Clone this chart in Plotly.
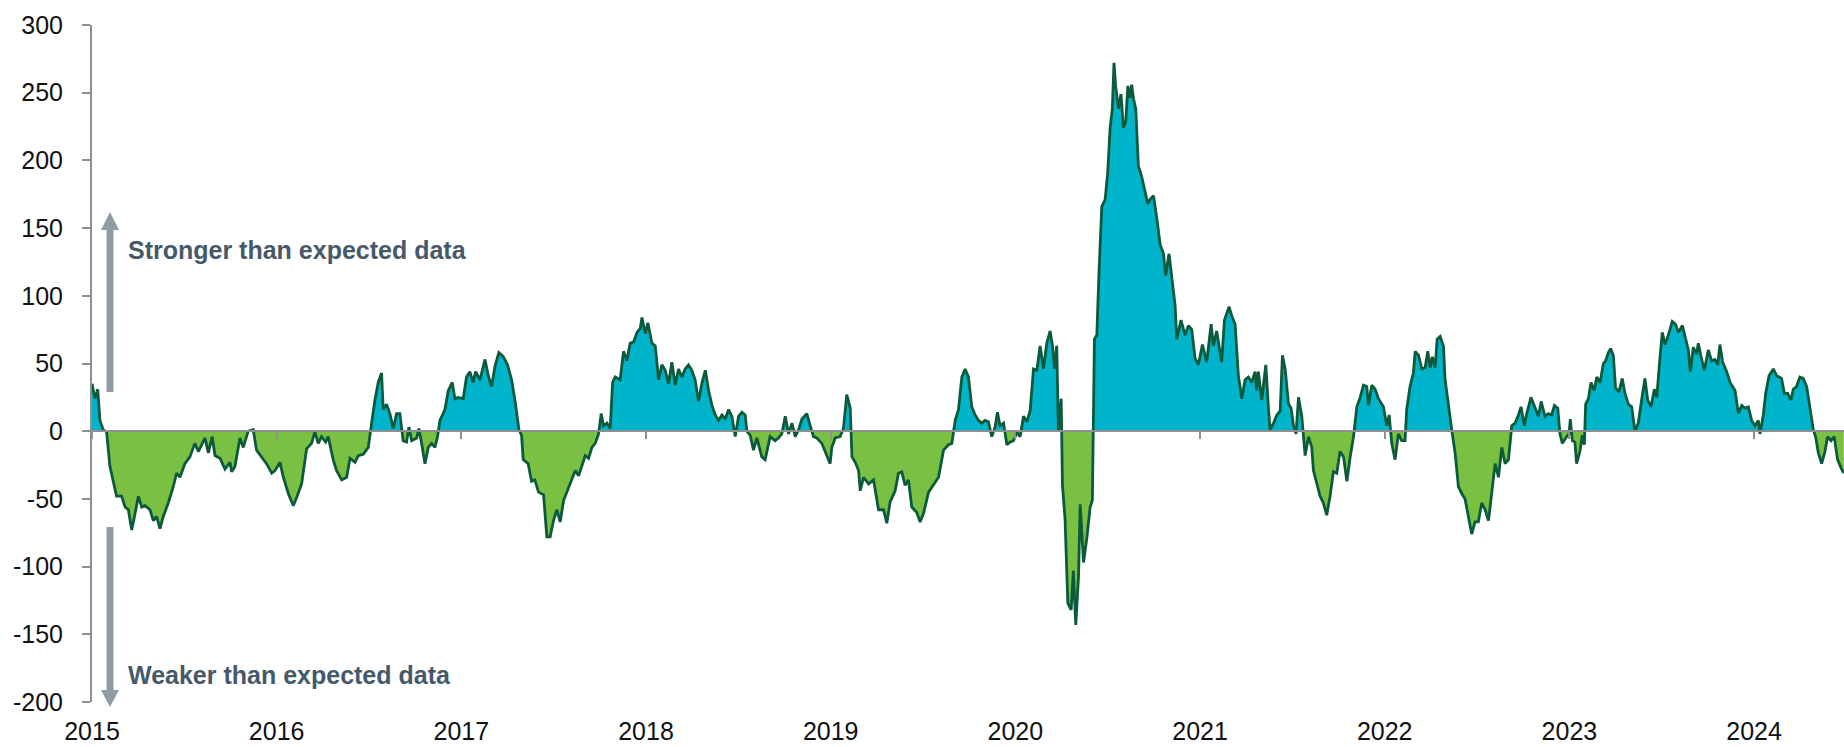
import plotly.graph_objects as go

# ---- data (decimal year, index value) ----
years = [
    2015.000, 2015.016, 2015.031, 2015.043, 2015.061, 2015.079, 2015.097, 2015.115, 2015.133, 2015.160,
    2015.179, 2015.197, 2015.215, 2015.233, 2015.251, 2015.269, 2015.287, 2015.314, 2015.332, 2015.350,
    2015.368, 2015.386, 2015.413, 2015.440, 2015.458, 2015.476, 2015.503, 2015.530, 2015.557, 2015.576,
    2015.612, 2015.630, 2015.651, 2015.666, 2015.693, 2015.720, 2015.747, 2015.756, 2015.774, 2015.801,
    2015.819, 2015.846, 2015.873, 2015.891, 2015.918, 2015.945, 2015.973, 2015.991, 2016.018, 2016.036,
    2016.063, 2016.090, 2016.108, 2016.135, 2016.162, 2016.189, 2016.207, 2016.225, 2016.243, 2016.265,
    2016.279, 2016.306, 2016.324, 2016.352, 2016.379, 2016.397, 2016.424, 2016.442, 2016.469, 2016.496,
    2016.514, 2016.532, 2016.550, 2016.568, 2016.577, 2016.595, 2016.613, 2016.631, 2016.649, 2016.667,
    2016.685, 2016.703, 2016.716, 2016.731, 2016.758, 2016.770, 2016.785, 2016.803, 2016.821, 2016.839,
    2016.857, 2016.871, 2016.884, 2016.911, 2016.929, 2016.951, 2016.965, 2016.983, 2017.010, 2017.028,
    2017.046, 2017.064, 2017.077, 2017.101, 2017.128, 2017.146, 2017.164, 2017.182, 2017.203, 2017.227,
    2017.250, 2017.272, 2017.290, 2017.312, 2017.326, 2017.335, 2017.362, 2017.380, 2017.398,
    2017.418, 2017.445, 2017.463, 2017.481, 2017.499, 2017.517, 2017.535, 2017.554, 2017.572, 2017.599,
    2017.617, 2017.635, 2017.653, 2017.671, 2017.689, 2017.707, 2017.725, 2017.743, 2017.757, 2017.770,
    2017.788, 2017.806, 2017.819, 2017.833, 2017.860, 2017.878, 2017.896, 2017.914, 2017.933, 2017.951,
    2017.969, 2017.978, 2017.996, 2018.010, 2018.032, 2018.050, 2018.068, 2018.086, 2018.104, 2018.122,
    2018.140, 2018.158, 2018.176, 2018.194, 2018.212, 2018.230, 2018.248, 2018.266, 2018.284, 2018.302,
    2018.321, 2018.339, 2018.357, 2018.375, 2018.393, 2018.411, 2018.429, 2018.447, 2018.465, 2018.483,
    2018.501, 2018.519, 2018.537, 2018.546, 2018.564, 2018.582, 2018.600, 2018.627, 2018.645, 2018.672,
    2018.699, 2018.717, 2018.735, 2018.754, 2018.772, 2018.790, 2018.808, 2018.826, 2018.844, 2018.871,
    2018.889, 2018.907, 2018.925, 2018.952, 2018.970, 2018.997, 2019.006, 2019.024, 2019.051, 2019.069,
    2019.087, 2019.106, 2019.115, 2019.133, 2019.151, 2019.160, 2019.178, 2019.205, 2019.232, 2019.259,
    2019.286, 2019.304, 2019.322, 2019.349, 2019.367, 2019.385, 2019.403, 2019.421, 2019.439, 2019.466,
    2019.484, 2019.502, 2019.530, 2019.557, 2019.584, 2019.611, 2019.638, 2019.656, 2019.674, 2019.692,
    2019.710, 2019.728, 2019.746, 2019.764, 2019.782,
    2019.800, 2019.818, 2019.836, 2019.854, 2019.872, 2019.890, 2019.903, 2019.917, 2019.936, 2019.954,
    2019.972, 2019.990, 2020.008, 2020.026, 2020.044, 2020.062, 2020.080, 2020.098, 2020.116, 2020.134,
    2020.152, 2020.170, 2020.188, 2020.201, 2020.212, 2020.224, 2020.233, 2020.248, 2020.255, 2020.269,
    2020.284, 2020.302, 2020.314, 2020.327, 2020.342, 2020.351, 2020.369, 2020.387, 2020.405, 2020.417,
    2020.428, 2020.441, 2020.453, 2020.468, 2020.486, 2020.500, 2020.513, 2020.525, 2020.534, 2020.543,
    2020.558, 2020.572, 2020.585, 2020.598, 2020.609, 2020.621, 2020.630, 2020.639, 2020.652, 2020.666,
    2020.684, 2020.702, 2020.717, 2020.729, 2020.748, 2020.766, 2020.784, 2020.802, 2020.814, 2020.832,
    2020.847, 2020.865, 2020.874, 2020.897, 2020.919, 2020.937, 2020.955, 2020.973, 2020.991, 2021.013,
    2021.036, 2021.060, 2021.072, 2021.090, 2021.117, 2021.132, 2021.157, 2021.172, 2021.190,
    2021.208, 2021.217, 2021.226, 2021.244, 2021.262, 2021.280, 2021.298, 2021.307, 2021.316, 2021.334,
    2021.356, 2021.370, 2021.379, 2021.398, 2021.416, 2021.434, 2021.446, 2021.461, 2021.479, 2021.493,
    2021.506, 2021.520, 2021.533, 2021.551, 2021.569, 2021.587, 2021.605, 2021.614, 2021.632, 2021.650,
    2021.668, 2021.686, 2021.704, 2021.722, 2021.740, 2021.758, 2021.777, 2021.795, 2021.813, 2021.831,
    2021.849, 2021.867, 2021.885, 2021.903, 2021.912, 2021.930, 2021.948, 2021.966, 2021.993, 2022.011,
    2022.024, 2022.038, 2022.056, 2022.074, 2022.092, 2022.110, 2022.119, 2022.137, 2022.155, 2022.165,
    2022.183, 2022.201, 2022.219, 2022.233, 2022.246, 2022.258, 2022.273, 2022.284, 2022.300, 2022.318,
    2022.327, 2022.345, 2022.363, 2022.381, 2022.399, 2022.417, 2022.435, 2022.453, 2022.471, 2022.489,
    2022.507, 2022.525, 2022.544, 2022.562, 2022.580, 2022.598, 2022.616, 2022.634, 2022.652, 2022.670,
    2022.688, 2022.706, 2022.724, 2022.738, 2022.756, 2022.769, 2022.792, 2022.814, 2022.832, 2022.847,
    2022.868, 2022.886, 2022.904, 2022.919,
    2022.937, 2022.949, 2022.962, 2022.980, 2022.998, 2023.005, 2023.016, 2023.030, 2023.039, 2023.057,
    2023.070, 2023.081, 2023.088, 2023.103, 2023.117, 2023.135, 2023.148, 2023.166, 2023.184, 2023.196,
    2023.211, 2023.223, 2023.238, 2023.250, 2023.268, 2023.286, 2023.301, 2023.319, 2023.337, 2023.355,
    2023.373, 2023.391, 2023.409, 2023.424, 2023.442, 2023.460, 2023.473, 2023.491, 2023.503, 2023.518,
    2023.536, 2023.557, 2023.575, 2023.590, 2023.612, 2023.626, 2023.644, 2023.655, 2023.671, 2023.689,
    2023.698, 2023.713, 2023.731, 2023.752, 2023.770, 2023.788, 2023.803, 2023.815, 2023.830, 2023.852,
    2023.870, 2023.897, 2023.915, 2023.933, 2023.951, 2023.969, 2023.987, 2024.005, 2024.023, 2024.032,
    2024.050, 2024.063, 2024.081, 2024.104, 2024.122, 2024.149, 2024.164, 2024.182, 2024.200, 2024.212,
    2024.230, 2024.248, 2024.266, 2024.285, 2024.303, 2024.321, 2024.333, 2024.348, 2024.366, 2024.384,
    2024.398, 2024.416, 2024.434, 2024.452, 2024.474, 2024.486,
]

values = [
    35, 24, 31, 8, 1, -0.5, -26, -36, -48, -48,
    -56, -58, -73, -61, -48, -56, -55, -58, -66, -63,
    -72, -63, -53, -41, -31, -34, -24, -19, -9, -15,
    -5, -16, -4, -18, -20, -28, -23, -30, -26, -5,
    -12, 0, 1, -14, -19, -24, -31, -29, -23, -34,
    -46, -55, -49, -39, -13, -9, -0.5, -9, -4, -8,
    -4, -21, -29, -36, -34, -20, -23, -18, -17, -12,
    6, 23, 36, 43, 16, 20, 13, 2, 13, 13,
    -7, -8, 3, -7, -5, 2, -9, -24, -12, -9,
    -12, -4, 8, 16, 30, 36, 24, 25, 24, 40,
    44, 36, 44, 38, 53, 41, 33, 48, 58, 55,
    49, 38, 23, 1, -3, -21, -24, -37, -36,
    -45, -47, -78, -78, -66, -58, -67, -51, -45, -36,
    -29, -33, -26, -18, -20, -12, -9, -2, 13, 4,
    6, 2, 36, 40, 38, 59, 52, 65, 66, 73,
    76, 84, 72, 80, 65, 63, 38, 49, 45, 35,
    51, 34, 46, 40, 46, 49, 45, 38, 22, 35,
    45, 30, 19, 12, 8, 12, 9, 16, 11, -4,
    11, 14, 12, 0, -3, -14, -5, -19, -21, -4,
    -7, -5, -2, 11, -2, 6, -4, 1, 9, 13,
    4, -4, -5, -9, -15, -24, -12, -5, -4, 2,
    27, 17, -19, -23, -29, -44, -34, -39, -36, -58,
    -58, -68, -52, -44, -31, -30, -40, -36, -56, -60,
    -67, -61, -45, -39, -34, -14, -10, -9, 8, 16,
    40, 46, 40, 18, 12,
    8, 6, 8, 7, -4, 3, 14, 4, 6, -10,
    -8, -7, -1, -4, 11, 7, 15, 46, 45, 63,
    46, 65, 74, 63, 46, 63, 0, 24, -40, -65,
    -127, -132, -103, -143, -107, -54, -97, -79, -56, -51,
    68, 71, 118, 166, 171, 191, 224, 238, 272, 255,
    238, 249, 224, 229, 255, 246, 256, 246, 238, 196,
    188, 177, 168, 171, 174, 157, 138, 131, 115, 131,
    115, 93, 68, 82, 71, 78, 75, 54, 49, 64,
    51, 79, 63, 74, 51, 82, 92, 85, 79,
    40, 33, 24, 38, 40, 36, 44, 30, 44, 23,
    49, 18, 1, 6, 12, 15, 56, 46, 20, 17,
    4, -2, 25, 11, -18, -4, -12, -29, -39, -48,
    -53, -62, -48, -30, -31, -15, -19, -37, -19, -4,
    18, 25, 34, 33, 19, 34, 31, 24, 18, 4,
    12, -9, -21, -2, -7, -7, 16, 33, 43, 59,
    56, 46, 47, 59, 47, 55, 47, 68, 70, 63,
    38, 18, 1, -16, -41, -46, -50, -63, -76, -67,
    -67, -53, -58, -66, -44, -24, -34, -12, -24, -21,
    4, 6, 12, 18, 4, 13, 25, 18, 11, 22,
    11, 13, 12, 19,
    17, -2, -9, -5, -2, 9, -7, -8, -24, -15,
    -3, -10, 20, 24, 36, 30, 40, 36, 50, 52,
    58, 61, 56, 32, 29, 39, 28, 20, 18, 0,
    6, 23, 39, 23, 18, 31, 25, 55, 73, 64,
    71, 81, 79, 73, 78, 70, 60, 44, 62, 57,
    65, 55, 45, 60, 52, 53, 49, 64, 51, 44,
    36, 30, 13, 19, 17, 18, 8, 4, 8, -2,
    12, 28, 41, 46, 41, 39, 28, 28, 23, 31,
    33, 40, 39, 33, 16, 1, -4, -16, -24, -15,
    -4, -7, -4, -21, -28, -31,
]

tick_years = [2015, 2016, 2017, 2018, 2019, 2020, 2021, 2022, 2023, 2024]
tick_labels = ["2015", "2016", "2017", "2018", "2019", "2020", "2021", "2022", "2023", "2024"]
y_ticks = [-200, -150, -100, -50, 0, 50, 100, 150, 200, 250, 300]
y_tick_labels = ["-200", "-150", "-100", "-50", "0", "50", "100", "150", "200", "250", "300"]

# ---- split fill at zero crossings (derived from data) ----
fx, fy = [], []
for i, (x, v) in enumerate(zip(years, values)):
    if i > 0:
        x0, v0 = years[i - 1], values[i - 1]
        if (v0 > 0 and v < 0) or (v0 < 0 and v > 0):
            xc = x0 + (x - x0) * (-v0) / (v - v0)
            fx.append(xc)
            fy.append(0)
    fx.append(x)
    fy.append(v)
pos = [max(v, 0) for v in fy]
neg = [min(v, 0) for v in fy]

CYAN = "#00B4CB"
GREEN = "#7AC143"
LINE = "#0B5A3A"
GREY = "#8F8F8F"
ARROW = "#8E9CA4"
TEXT = "#45596A"
FONT = "Liberation Sans, Arial, sans-serif"

fig = go.Figure()
fig.add_trace(go.Scatter(x=fx, y=pos, mode="lines", line=dict(width=0, color=CYAN),
                         fill="tozeroy", fillcolor=CYAN, hoverinfo="skip", xaxis="x", yaxis="y"))
fig.add_trace(go.Scatter(x=fx, y=neg, mode="lines", line=dict(width=0, color=GREEN),
                         fill="tozeroy", fillcolor=GREEN, hoverinfo="skip", xaxis="x", yaxis="y"))
fig.add_trace(go.Scatter(x=years, y=values, mode="lines", line=dict(width=2.8, color=LINE),
                         xaxis="x2", yaxis="y"))

x_range = [2015, 2024.487]

# arrows as paper-space polygons (decoration)
L, R, T, B = 92, 1844, 25, 702
def px(x):
    return (x - L) / (R - L)
def py(y):
    return (B - y) / (B - T)

def arrow_path(xc, y_start, y_tip, head_len, head_w, shaft_w):
    d = 1 if y_tip > y_start else -1
    y_base = y_tip - d * head_len
    pts = [
        (xc - shaft_w / 2, y_start), (xc - shaft_w / 2, y_base), (xc - head_w / 2, y_base),
        (xc, y_tip), (xc + head_w / 2, y_base), (xc + shaft_w / 2, y_base), (xc + shaft_w / 2, y_start),
    ]
    return "M " + " L ".join(f"{px(a):.5f},{py(b):.5f}" for a, b in pts) + " Z"

shapes = [
    dict(type="path", xref="paper", yref="paper", path=arrow_path(110, 392, 212, 18, 18, 7),
         fillcolor=ARROW, line=dict(width=0)),
    dict(type="path", xref="paper", yref="paper", path=arrow_path(110, 527, 707, 17, 18, 7),
         fillcolor=ARROW, line=dict(width=0)),
]

annotations = [
    dict(xref="paper", yref="paper", x=px(126), y=py(250), xanchor="left", yanchor="middle",
         text="<b>Stronger than expected data</b>", showarrow=False,
         font=dict(family=FONT, size=25, color=TEXT)),
    dict(xref="paper", yref="paper", x=px(126), y=py(675), xanchor="left", yanchor="middle",
         text="<b>Weaker than expected data</b>", showarrow=False,
         font=dict(family=FONT, size=25, color=TEXT)),
]

fig.update_layout(
    width=1844, height=747,
    margin=dict(l=92, r=0, t=25, b=45),
    paper_bgcolor="white", plot_bgcolor="white",
    showlegend=False,
    font=dict(family=FONT, size=25, color="#111111"),
    xaxis=dict(range=x_range, tickvals=tick_years, ticktext=tick_labels, showline=False,
               ticks="", showgrid=False, zeroline=False, ticklabelstandoff=12,
               tickfont=dict(family=FONT, size=25, color="#111111")),
    xaxis2=dict(overlaying="x", matches="x", anchor="free", position=0.4, side="bottom",
                tickvals=tick_years, ticks="outside", ticklen=7, tickwidth=2, tickcolor=GREY,
                showline=True, linewidth=2, linecolor=GREY, showticklabels=False,
                showgrid=False, zeroline=False),
    yaxis=dict(range=[-200, 300], tickvals=y_ticks, ticktext=y_tick_labels, ticks="outside",
               ticklen=8, tickwidth=2, tickcolor=GREY, showline=True, linewidth=2, linecolor=GREY,
               showgrid=False, zeroline=False, ticklabelstandoff=14,
               tickfont=dict(family=FONT, size=25, color="#111111")),
    shapes=shapes,
    annotations=annotations,
)

fig.write_html("out.html", config={"displayModeBar": False},
               post_script="document.body.style.margin='0';document.body.style.overflow='hidden';")
